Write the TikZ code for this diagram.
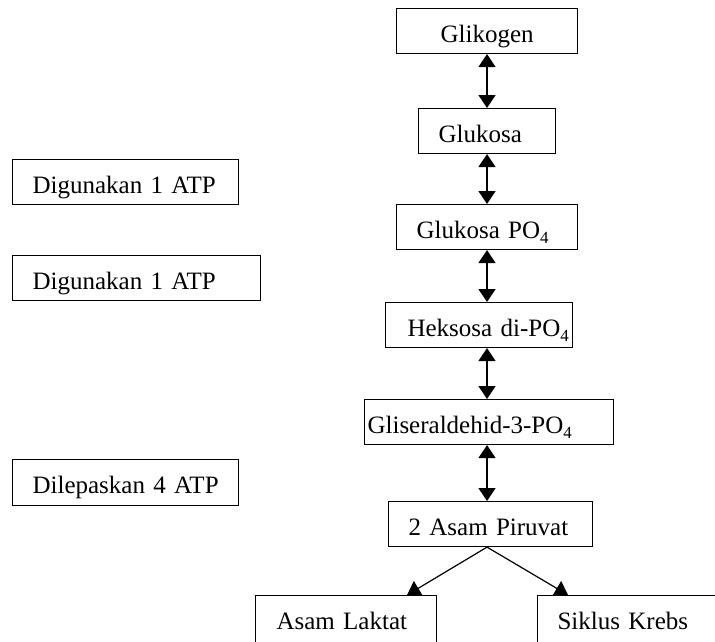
\documentclass[tikz,border=0pt]{standalone}
\usepackage{fontspec}
\setmainfont{Liberation Serif}
\usetikzlibrary{arrows.meta,calc}
% lowered small index digit, e.g. PO_4
\newcommand{\subidx}[1]{\raisebox{-0.2em}{\fontsize{17}{17}\selectfont #1}}

\tikzset{
  box/.style={draw, line width=1.1pt, anchor=north west, inner ysep=0pt,
    text height=34pt, text depth=11pt, align=left,
    font=\fontsize{25}{30}\selectfont},
  link/.style={line width=1.4pt,
    {Triangle[width=17pt,length=13pt]}-{Triangle[width=17pt,length=13pt]}},
  branch/.style={line width=1.2pt, -{Triangle[width=17pt,length=13pt]}}
}

\begin{document}
\begin{tikzpicture}[x=1pt,y=-1pt]
\useasboundingbox (0,0) rectangle (715,641);
\clip (0,0) rectangle (715,641);

% main pathway
\node[box, inner xsep=44pt, text width=93pt]  (gk) at (396,8)   {\mbox{Glikogen}};
\node[box, inner xsep=20pt, text width=97pt]  (gl) at (418,108) {\mbox{Glukosa}};
\node[box, inner xsep=20pt, text width=141pt] (gp) at (396,204) {\mbox{Glukosa PO\subidx{4}}};
\node[box, inner xsep=22pt, text width=143pt] (hk) at (385,302) {\mbox{Heksosa di-PO\subidx{4}}};
\node[box, inner xsep=3pt,  text width=243pt] (gs) at (364,399) {\mbox{Gliseraldehid-3-PO\subidx{4}}};
\node[box, inner xsep=20pt, text width=164pt] (pv) at (388,501) {\mbox{2 Asam Piruvat}};
\node[box, inner xsep=21pt, text width=139pt, text depth=16pt] (al) at (255,595) {\mbox{Asam Laktat}};
\node[box, inner xsep=20pt, text width=141pt, text depth=16pt] (sk) at (537,595) {\mbox{Siklus Krebs}};

% ATP notes
\node[box, inner xsep=20pt, text width=186pt] (d1) at (12,159) {\mbox{Digunakan 1 ATP}};
\node[box, inner xsep=20pt, text width=208pt] (d2) at (12,255) {\mbox{Digunakan 1 ATP}};
\node[box, inner xsep=20pt, text width=186pt, text depth=12pt] (dl) at (12,459) {\mbox{Dilepaskan 4 ATP}};

% reversible steps
\coordinate (ax) at (487,0);
\draw[link] (gk.south -| ax) -- (gl.north -| ax);
\draw[link] (gl.south -| ax) -- (gp.north -| ax);
\draw[link] (gp.south -| ax) -- (hk.north -| ax);
\draw[link] (hk.south -| ax) -- (gs.north -| ax);
\draw[link] (gs.south -| ax) -- (pv.north -| ax);

% fate of pyruvate
\coordinate (la) at ($(al.north east)+(-30,0)$);
\coordinate (kr) at ($(sk.north west)+(31,0)$);
\draw[branch] (pv.south -| ax) -- (la);
\draw[branch] (pv.south -| ax) -- (kr);
\end{tikzpicture}
\end{document}
